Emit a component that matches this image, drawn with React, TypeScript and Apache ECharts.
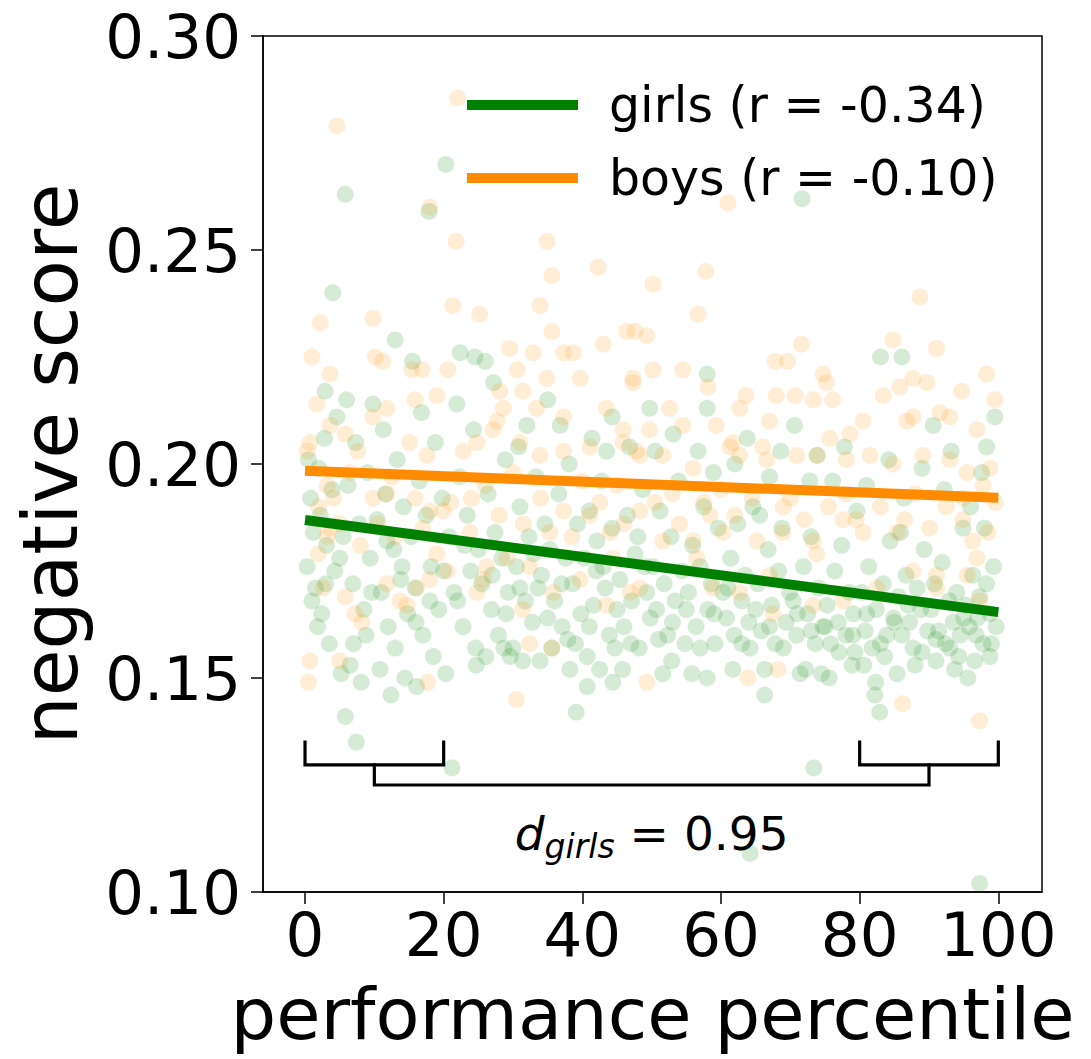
import React, { useEffect, useRef } from "react";
import * as echarts from "echarts";

const FONT = "DejaVu Sans";

const xTicks = [0, 20, 40, 60, 80, 100];

const girlsLabel = "girls (r = -0.34)";
const boysLabel = "boys (r = -0.10)";

const fitX = [0, 100];
const girlsFit = [0.1869, 0.1654];
const boysFit = [0.1984, 0.1921];

const girlsPoints: [number, number][] = [
  [0.3,0.176],[0.8,0.192],[1.2,0.184],[1.5,0.171],[2.0,0.199],[2.4,0.165],[2.8,0.206],[3.1,0.181],[3.5,0.158],[3.9,0.194],[4.3,0.175],[4.6,0.211],[4.0,0.240],[0.5,0.201],[1.8,0.162],[2.2,0.188],[2.9,0.217],
  [5.2,0.151],[5.8,0.141],[5.8,0.263],[6.5,0.153],[7.4,0.135],[8.1,0.149],[5.5,0.183],[6.2,0.195],[6.9,0.172],[7.3,0.205],[7.8,0.186],[8.5,0.166],[9.0,0.198],[9.4,0.178],[9.8,0.214],[8.8,0.160],[6.0,0.215],
  [10.8,0.152],[12.4,0.146],[14.4,0.150],[10.4,0.187],[11.0,0.170],[11.6,0.193],[12.0,0.162],[12.8,0.180],[13.3,0.201],[13.8,0.173],[14.2,0.190],[14.8,0.165],[11.3,0.208],[13.0,0.157],[13.0,0.229],
  [16.1,0.148],[17.9,0.259],[15.3,0.183],[15.9,0.171],[16.5,0.196],[17.0,0.160],[17.5,0.188],[18.2,0.176],[18.8,0.205],[19.3,0.166],[19.8,0.192],[16.8,0.212],[18.5,0.155],[15.5,0.224],
  [20.3,0.151],[20.3,0.270],[21.2,0.129],[22.4,0.226],[24.7,0.153],[24.6,0.157],[20.8,0.183],[21.5,0.170],[22.3,0.197],[22.8,0.162],[23.4,0.188],[23.9,0.175],[24.3,0.208],[21.9,0.214],[23.0,0.181],[24.5,0.225],
  [26.1,0.155],[29.6,0.155],[25.5,0.172],[26.4,0.193],[26.9,0.166],[27.4,0.184],[27.9,0.160],[28.4,0.178],[28.9,0.201],[29.3,0.170],[26.0,0.224],[27.2,0.219],[28.7,0.157],
  [30.0,0.157],[31.4,0.154],[33.9,0.154],[30.5,0.176],[31.0,0.190],[31.8,0.168],[32.3,0.183],[32.8,0.163],[33.3,0.197],[34.1,0.174],[34.6,0.186],[32.0,0.209],[33.6,0.171],[30.8,0.204],[35.0,0.215],
  [35.6,0.157],[38.2,0.152],[39.1,0.142],[35.3,0.180],[36.0,0.168],[36.6,0.193],[37.1,0.162],[37.6,0.178],[38.1,0.200],[38.6,0.172],[39.3,0.186],[39.8,0.165],[36.8,0.209],[37.9,0.159],
  [40.7,0.155],[40.7,0.148],[42.5,0.152],[44.7,0.157],[44.4,0.149],[40.3,0.178],[41.0,0.189],[41.6,0.167],[42.1,0.182],[42.8,0.196],[43.3,0.171],[43.9,0.160],[44.3,0.185],[41.4,0.206],[43.5,0.203],[42.0,0.175],[44.3,0.211],
  [45.4,0.173],[46.0,0.162],[46.5,0.188],[47.1,0.168],[47.6,0.179],[48.2,0.157],[48.7,0.194],[49.3,0.170],[49.8,0.164],[46.8,0.204],[48.0,0.183],[45.8,0.152],[49.7,0.213],
  [51.6,0.151],[52.9,0.154],[50.2,0.176],[50.7,0.166],[51.2,0.189],[51.8,0.172],[52.3,0.160],[52.8,0.183],[53.4,0.168],[53.9,0.196],[54.4,0.175],[54.8,0.158],[50.5,0.203],[53.1,0.207],
  [55.8,0.151],[58.0,0.150],[55.3,0.170],[55.9,0.181],[56.4,0.162],[57.0,0.176],[57.5,0.190],[58.1,0.166],[58.6,0.172],[59.1,0.158],[59.6,0.185],[56.7,0.203],[58.9,0.198],[58.0,0.221],[58.0,0.213],
  [61.7,0.152],[64.2,0.157],[64.2,0.109],[60.3,0.170],[60.8,0.164],[61.4,0.178],[61.9,0.160],[62.4,0.186],[63.0,0.168],[63.5,0.174],[64.0,0.163],[64.6,0.190],[62.0,0.200],[63.8,0.206],
  [66.3,0.152],[66.3,0.146],[65.3,0.172],[65.8,0.161],[66.8,0.180],[67.3,0.167],[67.8,0.158],[68.3,0.175],[68.8,0.185],[69.4,0.163],[69.9,0.170],[67.0,0.197],[68.6,0.203],[65.6,0.188],
  [71.4,0.151],[72.2,0.152],[74.5,0.151],[73.4,0.129],[71.7,0.262],[70.4,0.168],[70.9,0.160],[71.9,0.176],[72.5,0.165],[73.0,0.183],[73.6,0.158],[74.1,0.171],[74.7,0.162],[72.8,0.196],[70.6,0.209],[73.9,0.202],
  [78.9,0.153],[75.3,0.167],[75.8,0.158],[76.4,0.175],[76.9,0.163],[77.4,0.181],[78.0,0.160],[78.5,0.170],[79.1,0.165],[79.6,0.189],[76.1,0.196],[77.8,0.204],[75.6,0.150],[79.3,0.156],
  [82.3,0.149],[82.2,0.146],[82.9,0.142],[83.0,0.225],[80.3,0.170],[80.8,0.161],[81.3,0.176],[81.8,0.157],[82.4,0.166],[83.4,0.172],[83.9,0.160],[84.4,0.182],[84.9,0.164],[81.0,0.195],[84.2,0.201],[80.6,0.153],[83.6,0.155],
  [85.4,0.151],[85.6,0.169],[86.1,0.160],[86.7,0.174],[87.2,0.163],[87.7,0.157],[88.3,0.171],[88.8,0.166],[89.3,0.180],[89.8,0.161],[86.4,0.192],[88.0,0.153],[89.0,0.199],[85.9,0.184],[86.1,0.225],
  [91.0,0.154],[93.7,0.152],[90.3,0.166],[90.8,0.172],[91.4,0.161],[91.9,0.177],[92.4,0.158],[92.9,0.168],[93.5,0.163],[94.0,0.170],[94.5,0.160],[94.9,0.185],[92.2,0.194],[93.2,0.203],[90.6,0.209],[94.3,0.155],
  [96.6,0.154],[98.8,0.155],[97.3,0.102],[95.3,0.167],[95.8,0.162],[96.3,0.174],[96.8,0.160],[97.3,0.169],[97.8,0.158],[98.3,0.172],[98.8,0.165],[99.3,0.176],[99.7,0.162],[96.0,0.190],[97.6,0.198],[98.3,0.204],[99.5,0.211],[98.0,0.185],[95.6,0.150],
  [1.0,0.168],[3.0,0.172],[5.0,0.178],[7.0,0.158],[9.6,0.170],[11.8,0.182],[14.0,0.176],[16.0,0.163],[18.0,0.168],[20.0,0.175],[22.0,0.168],[25.0,0.180],[27.0,0.174],[29.0,0.165],[31.0,0.171],[33.0,0.179],[35.0,0.164],[37.0,0.172],[39.0,0.158],[41.0,0.162],[43.0,0.176],[45.0,0.166],[47.0,0.158],[49.0,0.176],[51.0,0.159],[53.0,0.163],[55.0,0.166],[57.0,0.157],[59.0,0.165],[61.0,0.171],[63.0,0.158],[65.0,0.166],[67.0,0.162],[69.0,0.157],[71.0,0.165],[73.0,0.161],[75.0,0.162],[77.0,0.156],[79.0,0.160],[81.0,0.165],[83.0,0.158],[85.0,0.163],[87.0,0.167],[89.0,0.156],[91.0,0.159],[93.0,0.157],[95.0,0.164],[97.0,0.164],[99.0,0.158],
];

const boysPoints: [number, number][] = [
  [22.0,0.2855],[4.6,0.279],[18.0,0.260],[21.8,0.252],[34.9,0.252],[35.6,0.244],[42.3,0.246],[21.3,0.237],[25.2,0.235],[33.9,0.237],[9.8,0.234],[61.0,0.261],[57.8,0.245],[50.2,0.242],[88.7,0.239],[56.7,0.235],[2.2,0.233],
  [0.7,0.154],[0.5,0.149],[5.0,0.154],[17.7,0.149],[30.5,0.145],[49.3,0.149],[63.9,0.150],[68.2,0.152],[86.2,0.144],[97.3,0.140],[35.6,0.157],
  [1.0,0.225],[3.6,0.221],[10.1,0.225],[11.2,0.224],[15.4,0.222],[16.9,0.222],[20.6,0.222],[29.5,0.227],[32.9,0.226],[35.6,0.231],[37.3,0.226],[38.7,0.226],[43.0,0.228],[46.4,0.231],[47.3,0.220],[39.7,0.220],[34.9,0.220],[30.6,0.222],[28.1,0.217],[31.4,0.217],[33.4,0.213],[28.6,0.213],[27.7,0.210],[37.3,0.211],[43.5,0.213],[45.9,0.208],[15.9,0.215],[19.0,0.216],[11.8,0.213],[9.8,0.211],[1.7,0.214],[0.7,0.205],[0.3,0.203],[3.6,0.209],[5.8,0.207],[7.6,0.203],[15.1,0.205],[17.6,0.202],[22.8,0.203],[24.8,0.205],[27.1,0.208],[31.0,0.205],[33.9,0.202],[37.3,0.203],[41.1,0.204],[45.9,0.205],[48.3,0.202],
  [3.2,0.195],[4.1,0.192],[3.6,0.185],[3.2,0.183],[1.9,0.179],[2.6,0.171],[5.8,0.169],[7.2,0.165],[8.2,0.163],[11.8,0.172],[13.7,0.168],[14.7,0.167],[16.1,0.171],[18.0,0.173],[19.0,0.179],[19.9,0.189],[18.0,0.189],[15.9,0.192],[11.8,0.193],[9.8,0.192],[23.8,0.184],[20.5,0.175],[25.7,0.173],[26.2,0.176],[29.1,0.178],[32.4,0.176],[35.3,0.184],[37.3,0.189],[41.1,0.188],[44.0,0.184],[44.4,0.178],[39.7,0.173],[46.9,0.170],[48.3,0.171],[43.5,0.167],[35.8,0.170],[31.4,0.166],[24.8,0.170],[32.4,0.158],
  [6.5,0.198],[12.5,0.197],[26.0,0.195],[30.0,0.198],[40.0,0.196],[45.0,0.195],[53.0,0.193],[60.0,0.194],[70.0,0.192],[78.0,0.193],[88.0,0.193],[99.6,0.191],
  [47.6,0.231],[49.3,0.230],[50.2,0.222],[54.5,0.222],[47.3,0.219],[58.1,0.218],[62.7,0.213],[63.6,0.216],[67.8,0.224],[69.6,0.224],[71.6,0.228],[74.7,0.221],[75.2,0.219],[68.0,0.216],[70.7,0.216],[73.3,0.215],[76.1,0.215],[84.8,0.229],[91.1,0.227],[83.4,0.216],[85.8,0.218],[87.7,0.220],[89.7,0.219],[94.7,0.217],[98.3,0.221],[99.5,0.215],[91.6,0.212],[93.0,0.211],[96.9,0.208],[87.7,0.211],[86.8,0.210],[80.5,0.210],[78.6,0.207],[75.7,0.206],[67.0,0.210],[66.0,0.204],[61.7,0.205],[59.3,0.209],[54.5,0.209],[52.6,0.213],[49.7,0.208],[47.8,0.203],[51.6,0.202],[56.0,0.199],[61.3,0.204],[62.7,0.202],[66.6,0.201],[70.9,0.202],[73.8,0.202],[78.1,0.201],[81.5,0.202],[84.8,0.200],[89.1,0.202],[93.0,0.201],[95.5,0.198],[97.8,0.195],[98.8,0.199],
  [58.4,0.188],[60.3,0.184],[65.2,0.182],[68.9,0.184],[73.3,0.182],[73.8,0.179],[77.6,0.187],[80.5,0.184],[85.4,0.184],[90.1,0.185],[94.9,0.187],[96.3,0.182],[96.9,0.178],[91.1,0.171],[95.5,0.174],[87.7,0.175],[67.0,0.174],[56.5,0.178],[56.0,0.182],[51.6,0.182],[48.3,0.189],[67.5,0.165],[73.3,0.167],[77.6,0.168],[91.1,0.174],[82.5,0.171],[62.7,0.170],[58.8,0.171],[97.3,0.168],
  [2.0,0.190],[5.0,0.186],[8.0,0.181],[10.5,0.186],[13.0,0.183],[17.0,0.185],[21.0,0.191],[24.0,0.192],[28.0,0.188],[31.5,0.186],[34.0,0.192],[38.5,0.183],[42.5,0.191],[46.0,0.186],[50.5,0.191],[54.0,0.186],[57.5,0.191],[62.0,0.188],[64.5,0.192],[69.0,0.190],[72.0,0.187],[75.5,0.190],[79.5,0.187],[83.0,0.190],[86.5,0.187],[92.5,0.190],[95.0,0.192],[98.5,0.184],
];

// comparison brackets (bottom 20% vs top 20%)
const bracketLeft: [number, number][] = [[0, 0.135], [0, 0.1297], [20, 0.1297], [20, 0.135]];
const bracketRight: [number, number][] = [[80, 0.135], [80, 0.1297], [100, 0.1297], [100, 0.135]];
const bracketJoin: [number, number][] = [[10, 0.1297], [10, 0.125], [90, 0.125], [90, 0.1297]];
const effectLabelPos: [number, number] = [50, 0.1138];
const effectValue = "0.95";

export default function App() {
  const ref = useRef<HTMLDivElement>(null);
  useEffect(() => {
    if (!ref.current) return;
    const chart = echarts.init(ref.current, null, { renderer: "svg" });
    const bracketSeries = (data: [number, number][]) => ({
      type: "line",
      data,
      showSymbol: false,
      symbol: "none",
      silent: true,
      z: 4,
      lineStyle: { color: "#000", width: 3.2, cap: "square", join: "miter" },
    });
    chart.setOption({
      animation: false,
      backgroundColor: "#fff",
      textStyle: { fontFamily: FONT },
      grid: {
        left: 263,
        top: 36,
        width: 779,
        height: 856,
        show: true,
        borderColor: "#000",
        borderWidth: 1.5,
        backgroundColor: "transparent",
        containLabel: false,
        outerBoundsMode: "none",
      },
      legend: {
        data: [girlsLabel, boysLabel],
        orient: "vertical",
        left: 462,
        top: 72,
        icon: "rect",
        itemWidth: 111,
        itemHeight: 10,
        itemGap: 17,
        textStyle: {
          fontFamily: FONT,
          fontSize: 49,
          color: "#000",
          lineHeight: 56,
          padding: [0, 0, 0, 26],
        },
      },
      xAxis: {
        type: "value",
        min: -6.06,
        max: 106.3,
        name: "performance percentile",
        nameLocation: "middle",
        nameGap: 86,
        nameTextStyle: { fontFamily: FONT, fontSize: 72, color: "#000" },
        axisLine: { show: true, onZero: false, lineStyle: { color: "#000", width: 1.5 } },
        axisTick: {
          show: true,
          length: 12,
          inside: false,
          customValues: xTicks,
          lineStyle: { color: "#000", width: 1.5 },
        },
        axisLabel: {
          customValues: xTicks,
          margin: 12,
          fontFamily: FONT,
          fontSize: 61,
          color: "#000",
        },
        splitLine: { show: false },
      },
      yAxis: {
        type: "value",
        min: 0.1,
        max: 0.3,
        interval: 0.05,
        name: "negative score",
        nameLocation: "middle",
        nameGap: 175,
        nameRotate: 90,
        nameTextStyle: { fontFamily: FONT, fontSize: 76, color: "#000" },
        axisLine: { show: true, onZero: false, lineStyle: { color: "#000", width: 1.5 } },
        axisTick: { show: true, length: 12, inside: false, lineStyle: { color: "#000", width: 1.5 } },
        axisLabel: {
          margin: 22,
          fontFamily: FONT,
          fontSize: 61,
          color: "#000",
          formatter: (v: number) => v.toFixed(2),
        },
        splitLine: { show: false },
      },
      series: [
        {
          name: "girls points",
          type: "scatter",
          data: girlsPoints,
          symbolSize: 17,
          silent: true,
          z: 1,
          itemStyle: { color: "rgba(0,128,0,0.2)" },
        },
        {
          name: "boys points",
          type: "scatter",
          data: boysPoints,
          symbolSize: 17,
          silent: true,
          z: 2,
          itemStyle: { color: "rgba(255,140,0,0.2)" },
        },
        {
          name: girlsLabel,
          type: "line",
          data: fitX.map((x, i) => [x, girlsFit[i]]),
          showSymbol: false,
          symbol: "none",
          z: 5,
          itemStyle: { color: "#008000" },
          lineStyle: { color: "#008000", width: 10 },
        },
        {
          name: boysLabel,
          type: "line",
          data: fitX.map((x, i) => [x, boysFit[i]]),
          showSymbol: false,
          symbol: "none",
          z: 5,
          itemStyle: { color: "#ff8c00" },
          lineStyle: { color: "#ff8c00", width: 10 },
        },
        bracketSeries(bracketLeft),
        bracketSeries(bracketRight),
        bracketSeries(bracketJoin),
        {
          type: "scatter",
          data: [effectLabelPos],
          symbolSize: 1,
          silent: true,
          z: 6,
          itemStyle: { color: "rgba(0,0,0,0)" },
          label: {
            show: true,
            position: "inside",
            color: "#000",
            opacity: 1,
            textBorderWidth: 0,
            formatter: "{d|d}{s|girls}{e| = " + effectValue + "}",
            rich: {
              d: { fontFamily: FONT, fontStyle: "italic", fontSize: 47, lineHeight: 46, verticalAlign: "top", color: "#000", textBorderWidth: 0 },
              s: { fontFamily: FONT, fontStyle: "italic", fontSize: 33, lineHeight: 32, padding: [20, 0, 0, 0], verticalAlign: "top", color: "#000", textBorderWidth: 0 },
              e: { fontFamily: FONT, fontSize: 47, lineHeight: 46, verticalAlign: "top", color: "#000", textBorderWidth: 0 },
            },
          },
        },
      ],
    });
    return () => chart.dispose();
  }, []);
  return (
    <div
      ref={ref}
      style={{ position: "fixed", left: 0, top: 0, width: 1091, height: 1059, background: "#fff" }}
    />
  );
}
